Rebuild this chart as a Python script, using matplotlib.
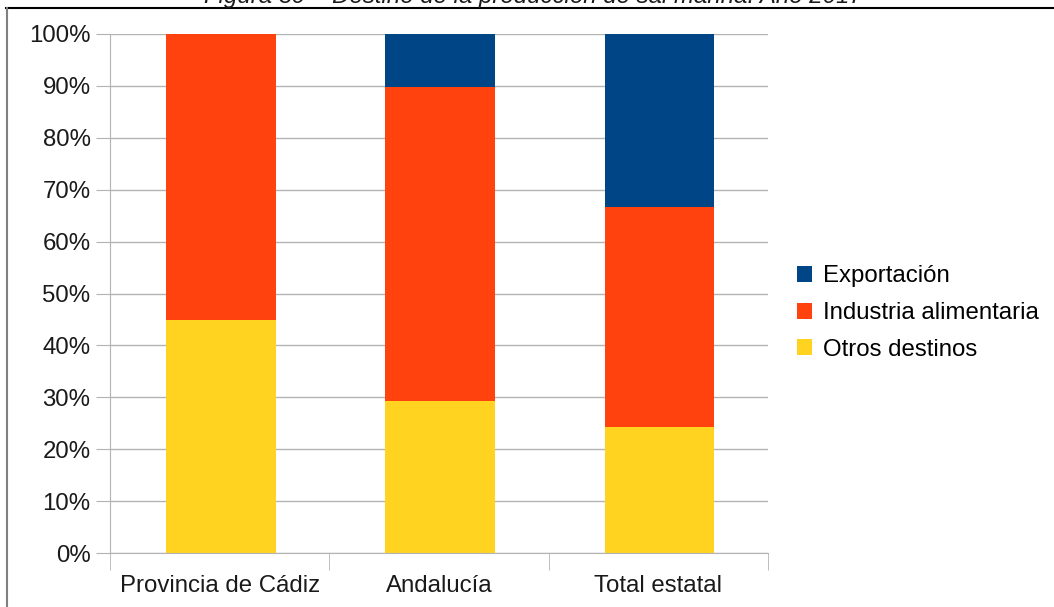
import numpy as np
import matplotlib.pyplot as plt
from matplotlib.lines import Line2D
from matplotlib.patches import Patch
from matplotlib.ticker import FuncFormatter, MultipleLocator

plt.rcParams['font.family'] = ['Liberation Sans', 'DejaVu Sans']

# data (shares, %)
categories = ['Provincia de Cádiz', 'Andalucía', 'Total estatal']
otros = [44.8, 29.2, 24.2]
industria = [55.2, 60.6, 42.5]
exportacion = [0.0, 10.2, 33.3]
series_names = ['Exportación', 'Industria alimentaria', 'Otros destinos']
colors = ['#004586', '#ff420e', '#ffd320']

FS = 17.3
W, H = 1054, 607
fig = plt.figure(figsize=(W / 100, H / 100), dpi=100)
ax = fig.add_axes([110 / W, 1 - 553 / H, (768 - 110) / W, (553 - 34) / H])

x = np.arange(len(categories))
bottom = np.zeros(len(categories))
for vals, c in zip([otros, industria, exportacion], colors[::-1]):
    ax.bar(x + 0.005, vals, width=0.5, bottom=bottom, color=c, zorder=2)
    bottom += np.array(vals)

ax.set_xlim(-0.5, 2.5)
ax.set_ylim(0, 100)
ax.yaxis.set_major_locator(MultipleLocator(10))
ax.yaxis.set_major_formatter(FuncFormatter(lambda v, p: f'{v:.0f}%'))
ax.grid(axis='y', color='#b3b3b3', linewidth=1, zorder=0)
ax.set_axisbelow(True)

for s in ['top', 'right']:
    ax.spines[s].set_visible(False)
for s in ['left', 'bottom']:
    ax.spines[s].set_color('#b3b3b3')

ax.set_xticks(x)
ax.set_xticklabels(categories, fontsize=FS, color='#1a1a1a')
ax.tick_params(axis='x', length=0, pad=16)
ax.set_xticks([-0.5, 0.5, 1.5, 2.5], minor=True)
ax.tick_params(axis='x', which='minor', length=12, color='#b3b3b3')
ax.tick_params(axis='y', length=10, color='#b3b3b3', labelsize=FS,
               labelcolor='#1a1a1a', pad=4)

handles = [Patch(facecolor=c, label=n) for c, n in zip(colors, series_names)]
fig.legend(handles=handles, loc='center left', bbox_to_anchor=(787 / W, 1 - 313 / H),
           frameon=False, fontsize=FS, handlelength=0.65, handleheight=0.65,
           handletextpad=0.45, labelspacing=0.62, borderaxespad=0)

# page frame and clipped caption above
fig.add_artist(Line2D([6 / W, 1], [1 - 8 / H] * 2, color='black', linewidth=1.5))
fig.add_artist(Line2D([7 / W] * 2, [0, 1 - 8 / H], color='#808080', linewidth=1.5))
fig.text(533 / W, 1 - 3 / H, 'Figura 39 – Destino de la producción de sal marina. Año 2017',
         ha='center', va='baseline', style='italic', fontsize=FS, color='#1a1a1a')

fig.savefig('out.png', dpi=100)
